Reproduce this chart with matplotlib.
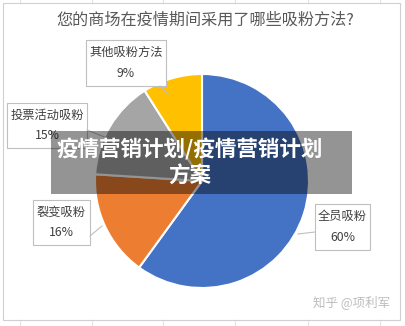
import matplotlib
matplotlib.use("Agg")
import matplotlib.pyplot as plt
from matplotlib.patches import Rectangle

plt.rcParams['font.family'] = ['Noto Sans CJK SC', 'DejaVu Sans']

title = "您的商场在疫情期间采用了哪些吸粉方法?"
categories = ["全员吸粉", "裂变吸粉", "投票活动吸粉", "其他吸粉方法"]
values = [60, 16, 15, 9]
colors = ["#4472C4", "#ED7D31", "#A5A5A5", "#FFC000"]
overlay_text = "疫情营销计划/疫情营销计划\n方案"
watermark = "知乎 @项利军"

W, H = 405, 326
fig = plt.figure(figsize=(W / 100, H / 100), dpi=100)
ax = fig.add_axes([0, 0, 1, 1])

def Y(y):
    return H - y

# faint sheet grid outside chart
for gx in [20, 92, 163, 235, 308, 380]:
    ax.plot([gx, gx], [Y(320), Y(326)], color="#e3e3e3", lw=0.8, zorder=0)
    ax.plot([gx, gx], [Y(0), Y(3)], color="#e3e3e3", lw=0.8, zorder=0)
# chart border
ax.add_patch(Rectangle((3, Y(320)), 397, 317, fill=False, ec="#d0d0d0", lw=0.8, zorder=1))

ax.text(205, Y(20), title, ha="center", va="center", fontsize=11.6, color="#595959", zorder=3)

wedges, _ = ax.pie(values, colors=colors, startangle=90, counterclock=False,
                   center=(202, Y(181)), radius=107, frame=True,
                   wedgeprops=dict(edgecolor="white", linewidth=1.5))
ax.set_xlim(0, W)
ax.set_ylim(0, H)
ax.set_aspect("auto")
ax.axis("off")

# label boxes (category, percent)
boxes = [
    (315, 204, 55, 46, (315, 232), (298, 234)),
    (33, 200, 57, 45, (90, 236), (102, 226)),
    (7, 103, 80, 45, (87, 130), (112, 140)),
    (86, 40, 80, 46, (160, 86), (168, 94)),
]
for (bx, by, bw, bh, p0, p1), cat, v in zip(boxes, categories, values):
    ax.add_patch(Rectangle((bx, Y(by + bh)), bw, bh, fc="white", ec="#bfbfbf", lw=0.8, zorder=4))
    ax.plot([p0[0], p1[0]], [Y(p0[1]), Y(p1[1])], color="#bfbfbf", lw=0.8, zorder=4)
    cx = bx + bw / 2
    ax.text(cx, Y(by + bh * 0.27), cat, ha="center", va="center", fontsize=8.8, color="#404040", zorder=5)
    ax.text(cx, Y(by + bh * 0.73), f"{v}%", ha="center", va="center", fontsize=8.8, color="#404040", zorder=5)

# overlay band
ax.add_patch(Rectangle((51, Y(194)), 301, 63, fc="black", alpha=0.42, ec="none", zorder=6))
ax.text(190, Y(163), overlay_text, ha="center", va="center", fontsize=15.5, fontweight="bold",
        color="white", linespacing=1.3, zorder=7)

ax.text(352, Y(302), watermark, ha="center", va="center", fontsize=9, color="#bdbdbd", zorder=7)

fig.savefig("out.png", dpi=100)
